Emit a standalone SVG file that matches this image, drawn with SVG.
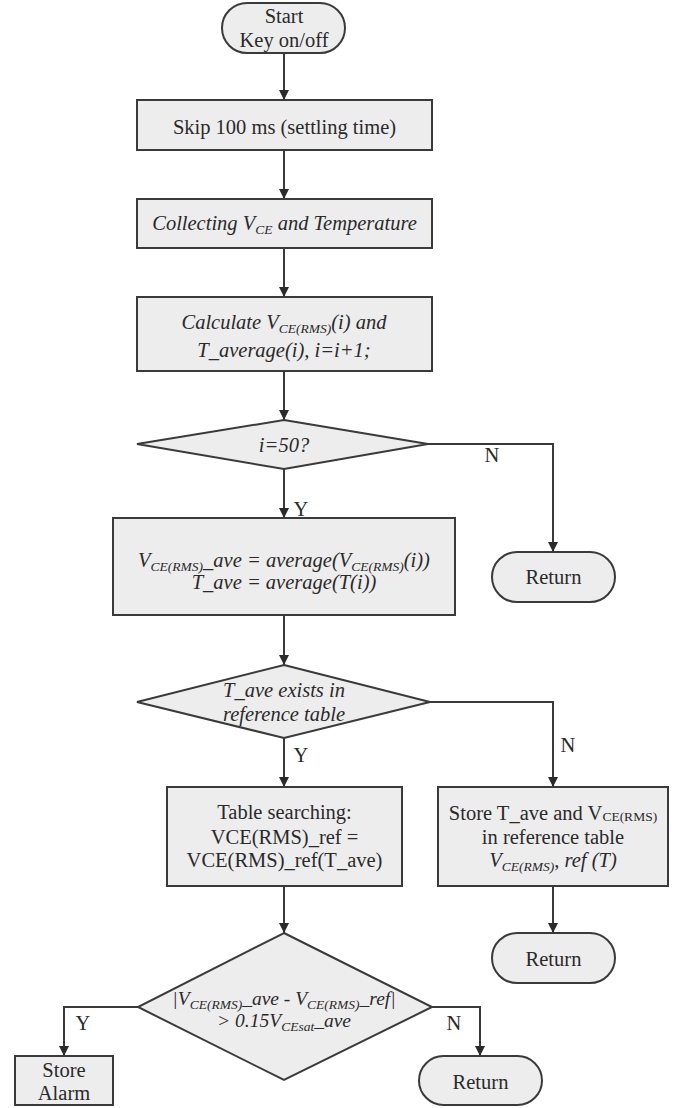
<svg xmlns="http://www.w3.org/2000/svg" width="682" height="1108" viewBox="0 0 682 1108">
<style>
.shape{fill:#ededed;stroke:#3a3a3a;stroke-width:2}
.t{font-family:'Liberation Serif','Times New Roman','DejaVu Serif',serif;font-size:20.5px;fill:#2a2a2a;text-anchor:middle}
.i{font-style:italic}
.sub{font-size:13.5px}
.conn{fill:none;stroke:#3a3a3a;stroke-width:2}
</style>
<defs>
<marker id="arr" viewBox="0 0 10 10" refX="10" refY="5" markerWidth="5" markerHeight="5" orient="auto" markerUnits="strokeWidth">
<path d="M0,0 L10,5 L0,10 z" fill="#2a2a2a"/>
</marker>
</defs>
<rect width="682" height="1108" fill="#ffffff"/>

<g id="connectors">
<path class="conn" d="M284,53 V100" marker-end="url(#arr)"/>
<path class="conn" d="M284,150 V199" marker-end="url(#arr)"/>
<path class="conn" d="M284,248 V297" marker-end="url(#arr)"/>
<path class="conn" d="M284,371 V420" marker-end="url(#arr)"/>
<path class="conn" d="M428,444 H553 V552" marker-end="url(#arr)"/>
<path class="conn" d="M284,469 V518" marker-end="url(#arr)"/>
<path class="conn" d="M284,615 V665" marker-end="url(#arr)"/>
<path class="conn" d="M430,702 H553 V787" marker-end="url(#arr)"/>
<path class="conn" d="M284,738 V787" marker-end="url(#arr)"/>
<path class="conn" d="M284,886 V933" marker-end="url(#arr)"/>
<path class="conn" d="M553,886 V933" marker-end="url(#arr)"/>
<path class="conn" d="M138,1007 H64 V1056" marker-end="url(#arr)"/>
<path class="conn" d="M432,1007 H480 V1056" marker-end="url(#arr)"/>
<text class="t" x="492" y="462">N</text>
<text class="t" x="301" y="516">Y</text>
<text class="t" x="568" y="752">N</text>
<text class="t" x="301" y="762">Y</text>
<text class="t" x="83" y="1030">Y</text>
<text class="t" x="454" y="1030">N</text>
</g>

<g id="start">
<rect class="shape" x="222" y="3" width="123" height="50" rx="25" ry="25"/>
<text class="t" x="284" y="23">Start</text>
<text class="t" x="284" y="47">Key on/off</text>
</g>

<g id="skip">
<rect class="shape" x="137" y="100" width="295" height="50"/>
<text class="t" x="284.5" y="134">Skip 100 ms (settling time)</text>
</g>

<g id="collect">
<rect class="shape" x="137" y="199" width="295" height="49"/>
<text class="t i" x="284.5" y="230">Collecting V<tspan class="sub" dy="4">CE</tspan><tspan dy="-4"> and Temperature</tspan></text>
</g>

<g id="calculate">
<rect class="shape" x="137" y="297" width="295" height="74"/>
<text class="t i" x="284" y="329">Calculate V<tspan class="sub" dy="4">CE(RMS)</tspan><tspan dy="-4">(i) and</tspan></text>
<text class="t i" x="284" y="357">T_average(i), i=i+1;</text>
</g>

<g id="check50">
<polygon class="shape" points="284,420 428,444 284,469 137,444"/>
<text class="t i" x="284" y="452">i=50?</text>
</g>

<g id="return1">
<rect class="shape" x="492" y="552" width="123" height="50" rx="25" ry="25"/>
<text class="t" x="553.5" y="584">Return</text>
</g>

<g id="average">
<rect class="shape" x="113" y="518" width="342" height="97"/>
<text class="t i" x="284" y="567">V<tspan class="sub" dy="4">CE(RMS)</tspan><tspan dy="-4">_ave = average(V</tspan><tspan class="sub" dy="4">CE(RMS)</tspan><tspan dy="-4">(i))</tspan></text>
<text class="t i" x="284" y="589">T_ave = average(T(i))</text>
</g>

<g id="exists">
<polygon class="shape" points="284,665 430,702 284,738 137,702"/>
<text class="t i" x="284" y="697">T_ave exists in</text>
<text class="t i" x="284" y="721">reference table</text>
</g>

<g id="tablesearch">
<rect class="shape" x="167" y="787" width="235" height="99"/>
<text class="t" x="284.5" y="819">Table searching:</text>
<text class="t" x="284.5" y="844">VCE(RMS)_ref =</text>
<text class="t" x="284.5" y="867">VCE(RMS)_ref(T_ave)</text>
</g>

<g id="storeref">
<rect class="shape" x="438" y="787" width="230" height="99"/>
<text class="t" x="553" y="820">Store T_ave and V<tspan class="sub" dy="1">CE(RMS)</tspan></text>
<text class="t" x="553" y="844">in reference table</text>
<text class="t i" x="553" y="867">V<tspan class="sub" dy="4">CE(RMS)</tspan><tspan dy="-4">, ref (T)</tspan></text>
</g>

<g id="return2">
<rect class="shape" x="492" y="933" width="123" height="50" rx="25" ry="25"/>
<text class="t" x="553.5" y="966">Return</text>
</g>

<g id="compare">
<polygon class="shape" points="284,933 432,1007 284,1080 138,1007"/>
<text class="t i" x="284" y="1005" style="font-size:19.5px">|V<tspan class="sub" dy="4">CE(RMS)</tspan><tspan dy="-4">_ave - V</tspan><tspan class="sub" dy="4">CE(RMS)</tspan><tspan dy="-4">_ref|</tspan></text>
<text class="t i" x="284" y="1027" style="font-size:19.5px">&gt; 0.15V<tspan class="sub" dy="4">CEsat</tspan><tspan dy="-4">_ave</tspan></text>
</g>

<g id="alarm">
<rect class="shape" x="15" y="1056" width="98" height="49"/>
<text class="t" x="64" y="1077">Store</text>
<text class="t" x="64" y="1100">Alarm</text>
</g>

<g id="return3">
<rect class="shape" x="419" y="1056" width="123" height="49" rx="24.5" ry="24.5"/>
<text class="t" x="480.5" y="1089">Return</text>
</g>
</svg>
